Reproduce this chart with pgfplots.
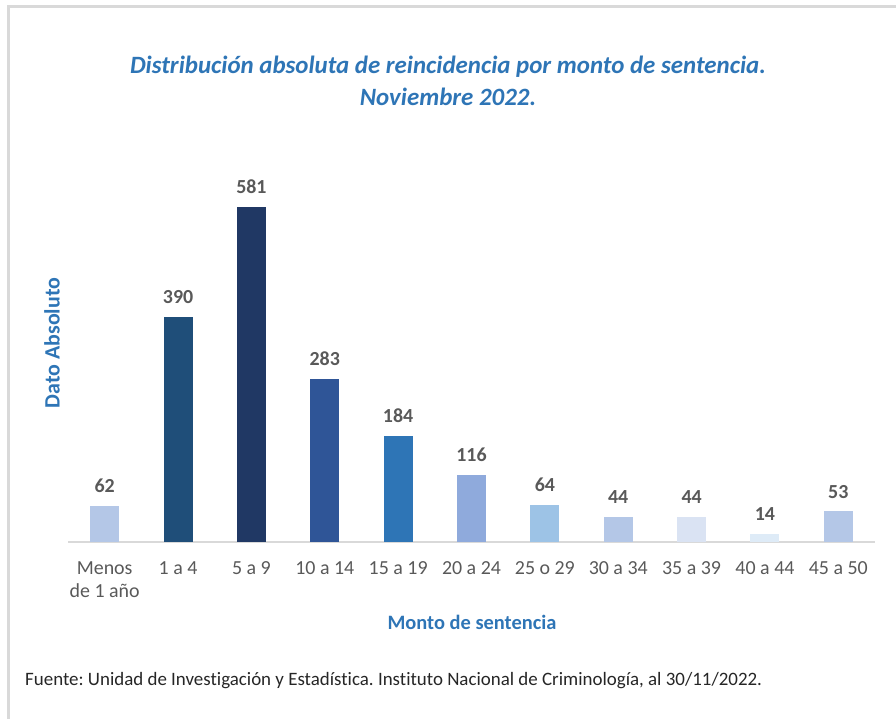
\documentclass[border=0pt]{standalone}
\usepackage{pgfplots}
\pgfplotsset{compat=1.18}
\usepackage{fontspec}
\setmainfont{Carlito}[Ligatures=NoCommon]
\frenchspacing
\definecolor{tblue}{HTML}{2E75B6}
\definecolor{tgray}{HTML}{595959}
\definecolor{fgray}{HTML}{D9D9D9}
\definecolor{c0}{HTML}{B4C7E7}
\definecolor{c1}{HTML}{1F4E79}
\definecolor{c2}{HTML}{203864}
\definecolor{c3}{HTML}{2F5597}
\definecolor{c4}{HTML}{2E75B6}
\definecolor{c5}{HTML}{8FAADC}
\definecolor{c6}{HTML}{9DC3E6}
\definecolor{c7}{HTML}{B4C7E7}
\definecolor{c8}{HTML}{DAE3F3}
\definecolor{c9}{HTML}{DEEBF7}
\definecolor{c10}{HTML}{B4C7E7}
\begin{document}
\begin{tikzpicture}[x=1bp,y=1bp]
\useasboundingbox (0,0) rectangle (896,719);
\draw[fgray, line width=2.5bp] (8.5,-5) -- (8.5,712.5) -- (900,712.5);
\node[font=\fontsize{25}{28}\selectfont\bfseries\itshape, text=tblue] at (448,719-67) {Distribución absoluta de reincidencia por monto de sentencia.};
\node[font=\fontsize{25}{28}\selectfont\bfseries\itshape, text=tblue] at (448,719-97) {Noviembre 2022.};
\node[font=\fontsize{22}{24}\selectfont\bfseries, text=tblue, rotate=90] at (52,719-343) {Dato Absoluto};
\node[font=\fontsize{20.5}{24}\selectfont\bfseries, text=tblue] at (472,719-622) {Monto de sentencia};
\node[font=\fontsize{19}{22}\selectfont, text=black!85, anchor=west, inner sep=0pt] at (25,719-681) {Fuente: Unidad de Investigación y Estadística. Instituto Nacional de Criminología, al 30/11/2022.};
\begin{axis}[
  at={(68bp,177bp)}, anchor=south west,
  scale only axis, width=807bp, height=346bp,
  xmin=-0.5, xmax=10.5, ymin=0, ymax=600,
  axis y line=none, axis x line*=bottom,
  x axis line style={fgray, line width=1.5bp, -},
  xtick={0,1,2,3,4,5,6,7,8,9,10},
  xticklabels={{Menos\\de 1 año},1 a 4,5 a 9,10 a 14,15 a 19,20 a 24,25 o 29,30 a 34,35 a 39,40 a 44,45 a 50},
  xticklabel style={align=center, text=tgray, font=\fontsize{20}{23}\selectfont, yshift=-16bp},
  major tick length=0pt,
  /pgf/number format/assume math mode=true,
  ybar, bar width=29bp, bar shift=0pt,
  nodes near coords,
  every node near coord/.append style={text=tgray, font=\fontsize{20}{22}\selectfont\bfseries, anchor=south, inner sep=0pt, yshift=13bp},
  clip=false,
]
\addplot[fill=c0, draw=none] coordinates {(0,62)};
\addplot[fill=c1, draw=none] coordinates {(1,390)};
\addplot[fill=c2, draw=none] coordinates {(2,581)};
\addplot[fill=c3, draw=none] coordinates {(3,283)};
\addplot[fill=c4, draw=none] coordinates {(4,184)};
\addplot[fill=c5, draw=none] coordinates {(5,116)};
\addplot[fill=c6, draw=none] coordinates {(6,64)};
\addplot[fill=c7, draw=none] coordinates {(7,44)};
\addplot[fill=c8, draw=none] coordinates {(8,44)};
\addplot[fill=c9, draw=none] coordinates {(9,14)};
\addplot[fill=c10, draw=none] coordinates {(10,53)};
\end{axis}
\end{tikzpicture}
\end{document}
